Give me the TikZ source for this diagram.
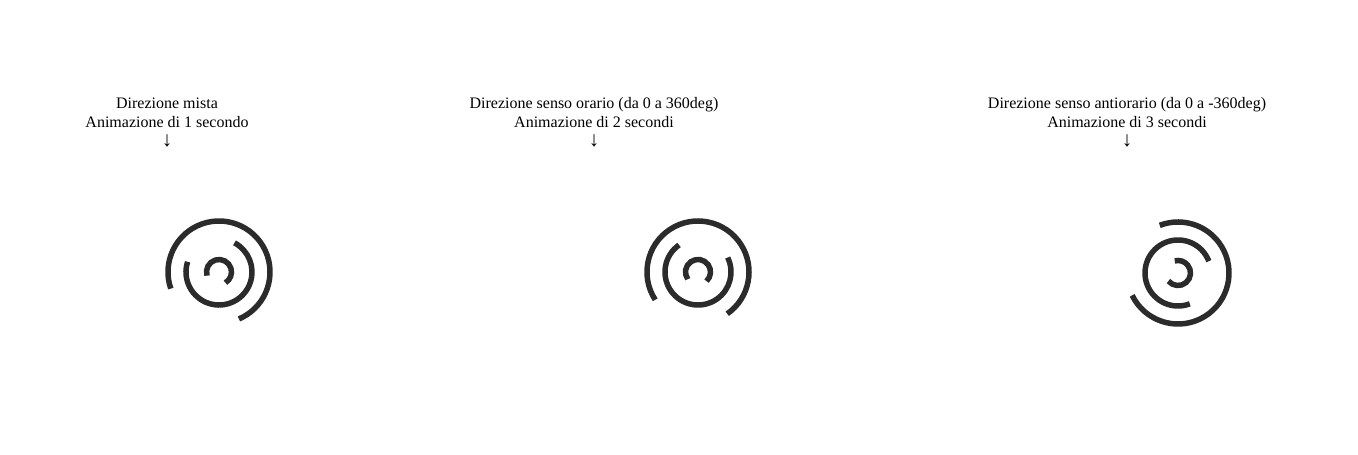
\documentclass[tikz,border=0pt]{standalone}
\usepackage{fontspec}
\setmainfont{Liberation Serif}
\usetikzlibrary{positioning}
\definecolor{ringgray}{HTML}{2B2B2B}
\tikzset{
  caption/.style={align=center, inner sep=0pt, font=\fontsize{16}{19}\selectfont},
  pointer/.style={inner sep=0pt, font=\fontsize{21}{21}\selectfont},
  ring/.style={draw=ringgray, line width=5.5pt}
}
\begin{document}
\begin{tikzpicture}[x=1pt,y=1pt]
  \useasboundingbox (0,0) rectangle (1358,455);
  % captions
  \node[caption] (cap1) at (167,342) {Direzione mista\\Animazione di 1 secondo};
  \node[caption] (cap2) at (594,342) {Direzione senso orario (da 0 a 360deg)\\Animazione di 2 secondi};
  \node[caption] (cap3) at (1127,342) {Direzione senso antiorario (da 0 a -360deg)\\Animazione di 3 secondi};
  \node[pointer] (arr1) at (167,314) {↓};
  \node[pointer] (arr2) at (594,314) {↓};
  \node[pointer] (arr3) at (1127,314) {↓};
  % spinners
  \coordinate (spin1) at (219,183);
  \coordinate (spin2) at (698,183);
  \coordinate (spin3) at (1178,182);
  \draw[ring] (spin1) ++(199:51) arc[start angle=199, end angle=-67, radius=51];
  \draw[ring] (spin1) ++(162:33) arc[start angle=162, end angle=422, radius=33];
  \draw[ring] (spin1) ++(197:12.5) arc[start angle=197, end angle=-59, radius=12.5];
  \draw[ring] (spin2) ++(213:51) arc[start angle=213, end angle=-55, radius=51];
  \draw[ring] (spin2) ++(125:33) arc[start angle=125, end angle=386, radius=33];
  \draw[ring] (spin2) ++(215:12.5) arc[start angle=215, end angle=-47, radius=12.5];
  \draw[ring] (spin3) ++(206:51) arc[start angle=206, end angle=471, radius=51];
  \draw[ring] (spin3) ++(21:33) arc[start angle=21, end angle=291, radius=33];
  \draw[ring] (spin3) ++(220:12.5) arc[start angle=220, end angle=465, radius=12.5];
\end{tikzpicture}
\end{document}
